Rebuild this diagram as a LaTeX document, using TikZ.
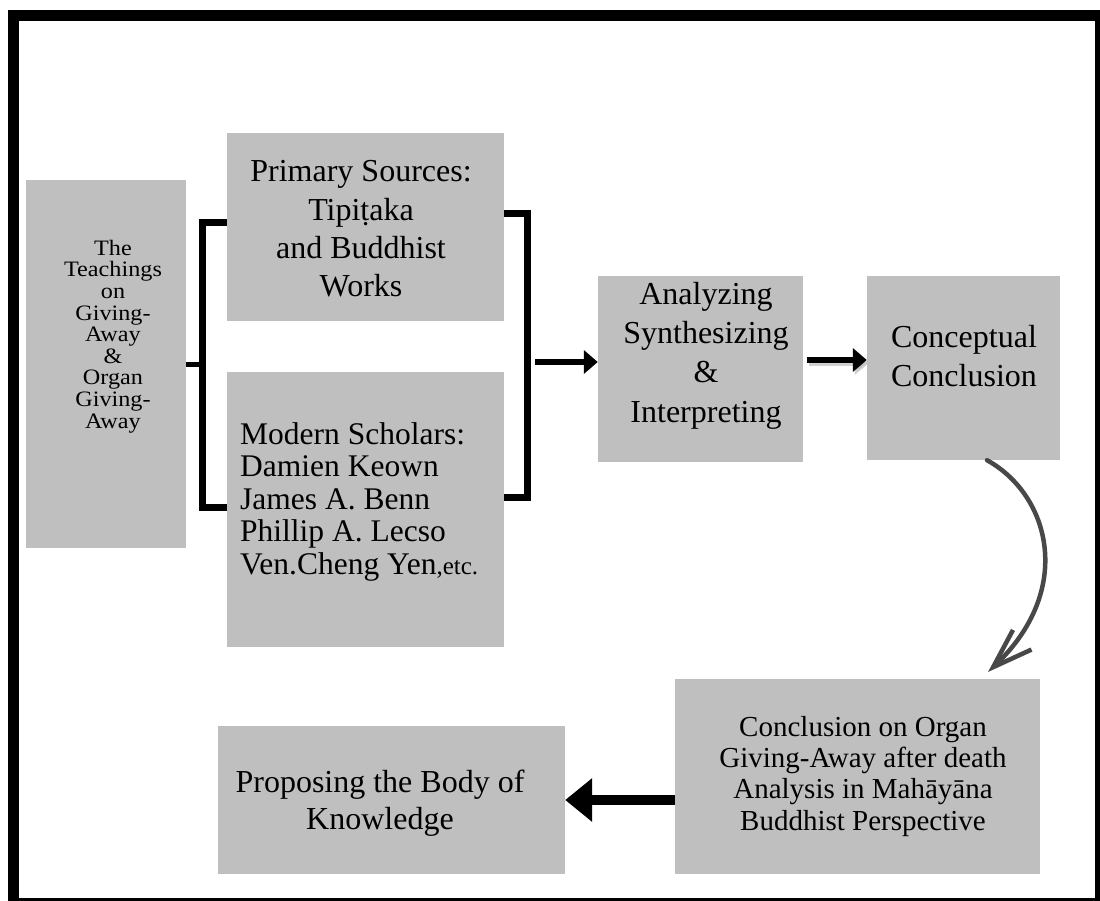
\documentclass[tikz,border=0pt]{standalone}
\usepackage{fontspec}
\setmainfont{Liberation Serif}
\newfontfamily\widefont[FakeStretch=1.1]{Liberation Serif}
\usetikzlibrary{arrows.meta}
\definecolor{boxgray}{RGB}{191,191,191}
\definecolor{pengray}{RGB}{72,72,72}

\begin{document}
\begin{tikzpicture}[x=1pt,y=-1pt,
  box/.style={fill=boxgray, inner sep=0pt},
  txt/.style={inner sep=0pt, align=center, anchor=base, font=\fontsize{32}{38.5}\selectfont},
  brk/.style={line width=7pt},
  arr/.style={line width=6pt, -{Triangle[length=14pt,width=23pt]}},
  bigarr/.style={line width=10pt, -{Triangle[length=27pt,width=42pt]}},
  pen/.style={pengray, line width=4.5pt, line cap=round, -{Straight Barb[length=40pt,width=27pt]}}]
  \useasboundingbox (0,0) rectangle (1100,901);
  \draw[line width=11pt] (13.5,15.5) rectangle (1100.5,903.5);

  % boxes
  \node[box, minimum width=160pt, minimum height=368pt] (teach)   at (106,364)     {};
  \node[box, minimum width=277pt, minimum height=188pt] (primary) at (365.5,227)   {};
  \node[box, minimum width=277pt, minimum height=275pt] (modern)  at (365.5,509.5) {};
  \node[box, minimum width=205pt, minimum height=186pt] (anal)    at (700.5,369)   {};
  \node[box, minimum width=193pt, minimum height=184pt] (concept) at (963.5,368)   {};
  \node[box, minimum width=365pt, minimum height=195pt] (finalc)  at (857.5,776.5) {};
  \node[box, minimum width=347pt, minimum height=148pt] (propose) at (391.5,800)   {};

  % texts (base = last line)
  \node[txt, font={\widefont\fontsize{22}{21.6}\selectfont\lineskiplimit=-20pt}] (teachT) at (113,428)
    {The\\Teachings\\on\\Giving-\\Away\\\&\\Organ\\Giving-\\Away};
  \node[txt] (primaryT) at (361,297) {Primary Sources:\\Tipiṭaka\\and Buddhist\\Works};
  \node[txt, align=left, anchor=base west, font=\fontsize{31.5}{32.5}\selectfont] (modernT) at (240,574)
    {Modern Scholars:\\Damien Keown\\James A. Benn\\Phillip A. Lecso\\Ven.Cheng Yen{\fontsize{25}{25}\selectfont,etc.}};
  \node[txt, font=\fontsize{32}{39.3}\selectfont] (analT) at (706,422) {Analyzing\\Synthesizing\\\&\\Interpreting};
  \node[txt, font=\fontsize{32}{39}\selectfont] (conceptT) at (964,386) {Conceptual\\Conclusion};
  \node[txt, font=\fontsize{29}{31.3}\selectfont] (finalcT) at (863,830)
    {Conclusion on Organ\\Giving-Away after death\\Analysis in Mahāyāna\\Buddhist Perspective};
  \node[txt, font=\fontsize{32}{37}\selectfont] (proposeT) at (380,829) {Proposing the Body of\\Knowledge};

  % brackets
  \coordinate (lbr) at (202.5,362);
  \coordinate (rbr) at (527.5,362);
  \draw[line width=5pt] (teach.east) -- (teach.east -| lbr);
  \draw[brk] ([yshift=4pt]primary.west) -| (lbr) |- ([yshift=2.5pt]modern.west);
  \draw[brk] ([yshift=13pt]primary.east) -| (rbr) |- ([yshift=12.5pt]modern.east);

  % arrows
  \draw[arr] ([xshift=7.5pt]rbr) -- (rbr -| anal.west);
  \begin{scope}[transform canvas={xshift=2pt,yshift=-3pt}]
    \draw[arr, black!30, opacity=0.6] ([xshift=4pt,yshift=9pt]anal.east) -- ([yshift=8pt]concept.west);
  \end{scope}
  \draw[arr] ([xshift=4pt,yshift=9pt]anal.east) -- ([yshift=8pt]concept.west);
  \coordinate (tipF) at (988,672);
  \draw[pen] ([xshift=23.5pt]concept.south) .. controls (1050,495) and (1075,590) .. (tipF);
  \draw[bigarr] (finalc.west |- propose.east) -- (propose.east);
\end{tikzpicture}
\end{document}
